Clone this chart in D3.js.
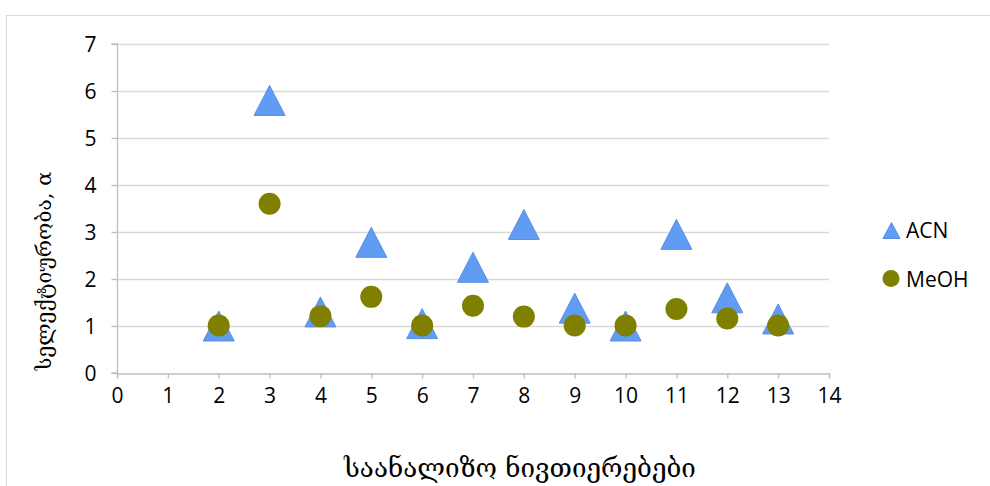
<!DOCTYPE html>
<html>
<head>
<meta charset="utf-8">
<script src="https://cdn.jsdelivr.net/npm/d3@7"></script>
<style>
  html, body { margin: 0; padding: 0; background: #fff; }
  svg { display: block; }
</style>
</head>
<body>
<svg id="chart" width="990" height="486"></svg>
<script>
// ---- data ----
const categories = [2, 3, 4, 5, 6, 7, 8, 9, 10, 11, 12, 13];
const acnValues  = [1.0, 5.8, 1.3, 2.78, 1.05, 2.25, 3.16, 1.38, 1.0, 2.95, 1.6, 1.15];
const meohValues = [1.01, 3.6, 1.21, 1.62, 1.01, 1.43, 1.2, 1.01, 1.01, 1.36, 1.16, 1.01];
const xTicks = [0, 1, 2, 3, 4, 5, 6, 7, 8, 9, 10, 11, 12, 13, 14];
const yTicks = [0, 1, 2, 3, 4, 5, 6, 7];
const seriesNames = ["ACN", "MeOH"];
const xTitle = "საანალიზო ნივთიერებები";
const yTitle = "სელექტიურობა, α";

// ---- layout ----
const svg = d3.select("#chart");
const plotL = 117, plotR = 829, plotT = 44, plotB = 373;
const x = d3.scaleLinear().domain([0, 14]).range([plotL, plotR]);
const y = d3.scaleLinear().domain([0, 7]).range([plotB, plotT]);

const tickFont = "'Open Sans', 'DejaVu Sans', sans-serif";
const geoFont = "'DejaVu Serif', 'DejaVu Sans', serif";
const blue = "#619CF4", blueStroke = "#5A8FE0", olive = "#808000";

// chart area border
svg.append("rect")
  .attr("x", 6.5).attr("y", 15.5).attr("width", 1100).attr("height", 1000)
  .attr("fill", "#fff").attr("stroke", "#d9d9d9").attr("stroke-width", 1);

// gridlines
svg.append("g").selectAll("line").data(yTicks.filter(d => d > 0)).join("line")
  .attr("x1", plotL).attr("x2", plotR)
  .attr("y1", d => Math.round(y(d)) + 0.5).attr("y2", d => Math.round(y(d)) + 0.5)
  .attr("stroke", "#d9d9d9").attr("stroke-width", 1.3);

// axes
const yAxis = svg.append("g").attr("transform", `translate(${plotL + 0.5},0)`)
  .call(d3.axisLeft(y).tickValues(yTicks).tickSize(6).tickPadding(15).tickFormat(d3.format("d")));
const xAxis = svg.append("g").attr("transform", `translate(0,${plotB + 0.5})`)
  .call(d3.axisBottom(x).tickValues(xTicks).tickSize(5).tickPadding(10).tickFormat(d3.format("d")));
[xAxis, yAxis].forEach(g => {
  g.select(".domain").attr("stroke", "#bfbfbf").attr("stroke-width", 1.3);
  g.selectAll(".tick line").attr("stroke", "#bfbfbf").attr("stroke-width", 1.3);
  g.selectAll(".tick text").attr("fill", "#000").style("font-family", tickFont).style("font-size", "21px");
});
yAxis.select(".domain").attr("d", `M-6,${y(0)}H0V${y(7)}H-6`);
yAxis.selectAll(".tick text").attr("dy", "0.36em");

// triangle path (bbox-centred, like Excel markers)
const tri = (w, h) => `M0,${-h / 2}L${w / 2},${h / 2}L${-w / 2},${h / 2}Z`;

// ACN series
svg.append("g").selectAll("path").data(categories.map((c, i) => [c, acnValues[i]])).join("path")
  .attr("transform", d => `translate(${x(d[0])},${y(d[1])})`)
  .attr("d", tri(31, 30))
  .attr("fill", blue).attr("stroke", blueStroke).attr("stroke-width", 1);

// MeOH series
svg.append("g").selectAll("circle").data(categories.map((c, i) => [c, meohValues[i]])).join("circle")
  .attr("cx", d => x(d[0])).attr("cy", d => y(d[1])).attr("r", 11)
  .attr("fill", olive);

// legend
const lg = svg.append("g");
lg.append("path").attr("transform", "translate(891.5,230.5)").attr("d", tri(17, 16))
  .attr("fill", blue).attr("stroke", blueStroke).attr("stroke-width", 1);
lg.append("circle").attr("cx", 891).attr("cy", 278.5).attr("r", 8.5).attr("fill", olive);
lg.selectAll("text").data(seriesNames).join("text")
  .attr("x", 906).attr("y", (d, i) => 238 + i * 49)
  .attr("fill", "#000").style("font-family", tickFont).style("font-size", "21px")
  .text(d => d);

// axis titles
svg.append("text")
  .attr("x", 520).attr("y", 477).attr("text-anchor", "middle")
  .attr("fill", "#000").style("font-family", geoFont).style("font-size", "26px")
  .text(xTitle);
svg.append("text")
  .attr("transform", "translate(51,271) rotate(-90)").attr("text-anchor", "middle")
  .attr("fill", "#000").style("font-family", geoFont).style("font-size", "21px")
  .text(yTitle);
</script>
</body>
</html>
